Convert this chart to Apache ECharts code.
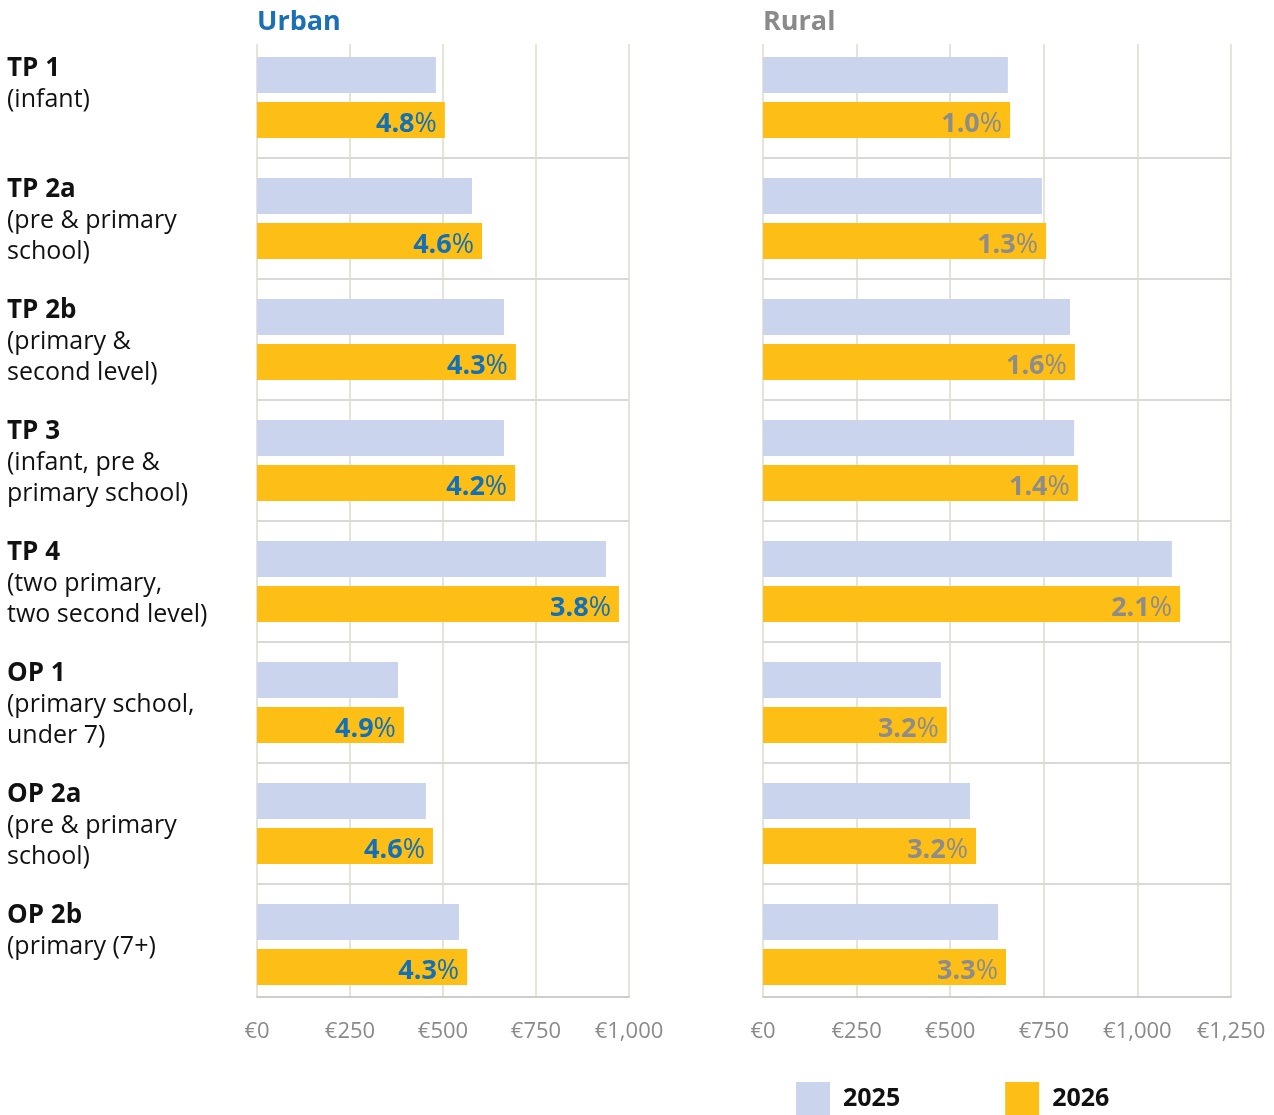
<!DOCTYPE html>
<html>
<head>
<meta charset="utf-8">
<script src="https://cdn.jsdelivr.net/npm/echarts@6/dist/echarts.min.js"></script>
<style>
  html, body { margin: 0; padding: 0; background: #fff; }
  #chart { width: 1274px; height: 1115px; }
</style>
</head>
<body>
<div id="chart"></div>
<script>
const categories = ['TP 1', 'TP 2a', 'TP 2b', 'TP 3', 'TP 4', 'OP 1', 'OP 2a', 'OP 2b']
const descriptions = [
  ['(infant)'],
  ['(pre & primary', 'school)'],
  ['(primary &', 'second level)'],
  ['(infant, pre &', 'primary school)'],
  ['(two primary,', 'two second level)'],
  ['(primary school,', 'under 7)'],
  ['(pre & primary', 'school)'],
  ['(primary (7+)']
]
const urban2025 = [481, 578, 664, 664, 938, 379, 454, 543]
const urban2026 = [505, 605, 696, 694, 973, 395, 473, 565]
const urbanPct = ['4.8', '4.6', '4.3', '4.2', '3.8', '4.9', '4.6', '4.3']
const rural2025 = [654, 745, 820, 831, 1092, 475, 553, 628]
const rural2026 = [660, 756, 833, 841, 1114, 491, 569, 649]
const ruralPct = ['1.0', '1.3', '1.6', '1.4', '2.1', '3.2', '3.2', '3.3']
const urbanTicks = { min: 0, max: 1000, interval: 250 }
const ruralTicks = { min: 0, max: 1250, interval: 250 }

const FONT = '"Open Sans", "Noto Sans", sans-serif'
const C2025 = '#cad4ec'
const C2026 = '#fdbe16'
const GRID_LINE = '#dddbcc'
const ROW_LINE = '#cccccc'

const chart = echarts.init(document.getElementById('chart'))

// bar grids (row bands) and decoration grids (value gridlines + axis)
const grids = [
  { left: 257, width: 372, top: 37, height: 968 },
  { left: 257, width: 372, top: 44, height: 953 },
  { left: 763, width: 468, top: 37, height: 968 },
  { left: 763, width: 468, top: 44, height: 953 }
]

const hiddenValueX = (gi, ticks) => ({
  type: 'value', gridIndex: gi, show: false, ...ticks
})
const decorValueX = (gi, ticks) => ({
  type: 'value', gridIndex: gi, ...ticks,
  axisLine: { show: true, lineStyle: { color: '#bdbdbd', width: 1.5 } },
  axisTick: { show: false },
  splitLine: { show: true, lineStyle: { color: GRID_LINE, width: 1.5 } },
  axisLabel: {
    color: '#8a8a8a', fontSize: 22, fontFamily: FONT, margin: 24,
    formatter: v => '€' + v.toLocaleString('en-US')
  }
})
const categoryY = (gi, showLabels) => ({
  type: 'category', gridIndex: gi, data: categories, inverse: true,
  axisLine: { show: false }, axisTick: { show: false },
  splitLine: { show: true, showMinLine: false, showMaxLine: false, lineStyle: { color: ROW_LINE, width: 1.5 } },
  axisLabel: showLabels ? {
    show: true, align: 'left', margin: 250, fontFamily: FONT, lineHeight: 31,
    padding: [4, 0, 0, 0],
    formatter: (value, idx) => {
      const lines = descriptions[idx].map(d => '{d|' + d + '}')
      while (lines.length < 2) lines.push('{d| }')
      return '{t|' + value + '}\n' + lines.join('\n')
    },
    rich: {
      t: { fontFamily: FONT, fontWeight: 'bold', fontSize: 26, color: '#111', lineHeight: 31 },
      d: { fontFamily: FONT, fontSize: 25, color: '#111', lineHeight: 31 }
    }
  } : { show: false }
})

const pctLabel = (pcts, color) => ({
  show: true, position: 'insideRight', distance: 8,
  formatter: p => '{v|' + pcts[p.dataIndex] + '}{p|%}',
  rich: {
    v: { fontFamily: FONT, fontWeight: 'bold', fontSize: 27, color, padding: [8, 0, 0, 0] },
    p: { fontFamily: FONT, fontSize: 27, color, padding: [8, 0, 0, 0] }
  }
})

const barSeries = (name, data, gi, color, label) => ({
  name, type: 'bar', xAxisIndex: gi, yAxisIndex: gi, data,
  barWidth: 36, barGap: '25%', itemStyle: { color },
  label: label || { show: false }, silent: true, z: 3
})

chart.setOption({
  animation: false,
  textStyle: { fontFamily: FONT },
  title: [
    { text: 'Urban', left: 257, top: 9, padding: 0, textStyle: { color: '#1a6fb5', fontSize: 27, fontWeight: 'bold', fontFamily: FONT } },
    { text: 'Rural', left: 763, top: 9, padding: 0, textStyle: { color: '#8a8a8a', fontSize: 27, fontWeight: 'bold', fontFamily: FONT } }
  ],
  legend: {
    data: ['2025', '2026'], left: 796, top: 1082, padding: 0,
    icon: 'rect', itemWidth: 34, itemHeight: 34, itemGap: 105,
    textStyle: { fontFamily: FONT, fontWeight: 'bold', fontSize: 25, color: '#111', padding: [6, 0, 0, 8] }
  },
  grid: grids,
  xAxis: [
    hiddenValueX(0, urbanTicks),
    decorValueX(1, urbanTicks),
    hiddenValueX(2, ruralTicks),
    decorValueX(3, ruralTicks)
  ],
  yAxis: [
    categoryY(0, true),
    { type: 'value', gridIndex: 1, show: false },
    categoryY(2, false),
    { type: 'value', gridIndex: 3, show: false }
  ],
  series: [
    barSeries('2025', urban2025, 0, C2025),
    barSeries('2026', urban2026, 0, C2026, pctLabel(urbanPct, '#1170b8')),
    barSeries('2025', rural2025, 2, C2025),
    barSeries('2026', rural2026, 2, C2026, pctLabel(ruralPct, '#8c8c8c'))
  ]
})
</script>
</body>
</html>
